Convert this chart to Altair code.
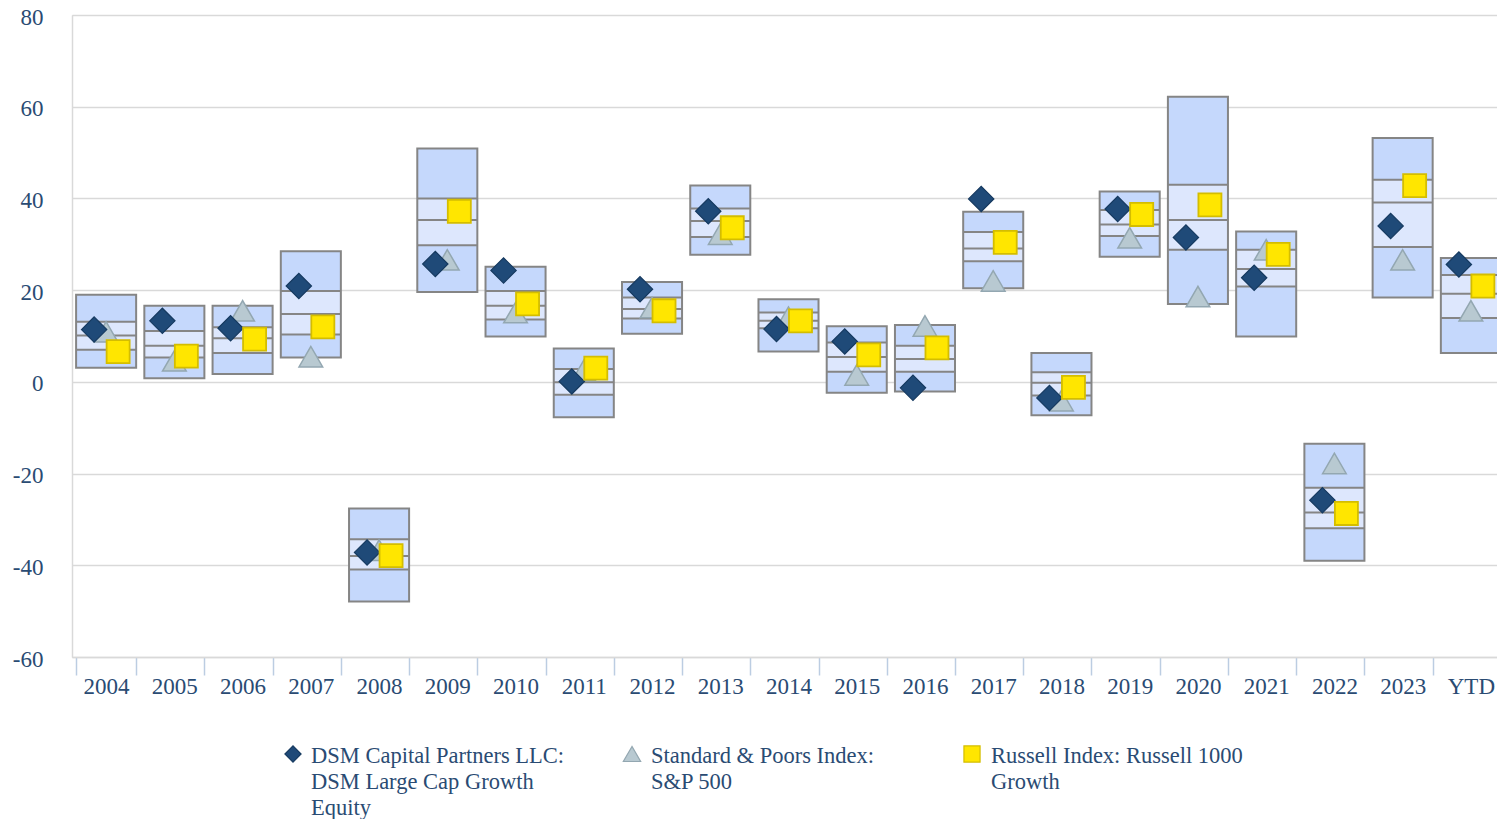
import altair as alt
import pandas as pd

years = ["2004", "2005", "2006", "2007", "2008", "2009", "2010", "2011", "2012", "2013",
         "2014", "2015", "2016", "2017", "2018", "2019", "2020", "2021", "2022", "2023", "YTD"]
# percentile bands of the universe (top = 5th percentile, bottom = 95th percentile)
pct05 = [19.0, 16.6, 16.6, 28.5, -27.6, 50.9, 25.1, 7.3, 21.8, 42.8,
         18.0, 12.1, 12.4, 37.1, 6.3, 41.5, 62.2, 32.8, -13.5, 53.2, 27.0]
pct25 = [13.1, 11.1, 11.9, 19.8, -34.3, 40.0, 19.8, 2.8, 18.4, 37.8,
         15.1, 8.6, 7.9, 32.7, 2.1, 37.5, 43.0, 28.8, -23.1, 44.1, 23.3]
pct50 = [10.1, 7.9, 9.5, 14.8, -38.0, 35.3, 16.6, -0.1, 15.9, 35.1,
         13.3, 5.4, 5.0, 29.1, -0.2, 34.3, 35.3, 24.6, -28.5, 39.1, 19.2]
pct75 = [7.0, 5.3, 6.3, 10.3, -40.9, 29.8, 13.6, -2.8, 13.8, 31.6,
         11.7, 2.2, 2.2, 26.3, -3.0, 31.8, 28.8, 20.8, -31.9, 29.4, 13.9]
pct95 = [3.1, 0.8, 1.7, 5.3, -47.9, 19.6, 9.9, -7.7, 10.5, 27.7,
         6.6, -2.4, -2.1, 20.4, -7.3, 27.3, 17.0, 9.9, -39.0, 18.4, 6.3]

dsm = [11.4, 13.3, 11.7, 20.9, -37.2, 25.7, 24.3, 0.1, 20.2, 37.2,
       11.5, 8.8, -1.3, 39.9, -3.5, 37.7, 31.5, 22.7, -25.8, 34.0, 25.6]
sp500 = [10.9, 4.6, 15.5, 5.5, -36.7, 26.6, 15.1, 2.5, 16.2, 32.2,
         14.1, 1.5, 12.2, 22.0, -4.1, 31.4, 18.6, 28.8, -17.8, 26.6, 15.5]
russell = [6.6, 5.6, 9.3, 12.0, -37.9, 37.2, 17.0, 3.0, 15.5, 33.6,
           13.3, 5.9, 7.4, 30.4, -1.2, 36.5, 38.6, 27.8, -28.7, 42.8, 20.9]

legend_labels = [
    "DSM Capital Partners LLC:\nDSM Large Cap Growth\nEquity",
    "Standard & Poors Index:\nS&P 500",
    "Russell Index: Russell 1000\nGrowth",
]

df = pd.DataFrame({
    "year": years, "p05": pct05, "p25": pct25, "p50": pct50, "p75": pct75, "p95": pct95,
    "dsm": dsm, "sp": sp500, "r1000": russell,
})

FONT = "Liberation Serif"
TXT = "#2a4b73"
GRID = "#d9d9d9"

x = alt.X(
    "year:N", sort=years,
    scale=alt.Scale(paddingInner=0.12, paddingOuter=0.06),
    axis=alt.Axis(
        title=None, labelAngle=0, labelFont=FONT, labelFontSize=23, labelColor=TXT,
        tickBand="extent", tickColor="#bccde2", tickSize=18, tickWidth=1.5,
        domainColor=GRID, domainWidth=1.5, labelPadding=0, grid=False,
    ),
)
yscale = alt.Scale(domain=[-60, 80], nice=False, zero=False)
yaxis = alt.Axis(
    title=None, values=[-60, -40, -20, 0, 20, 40, 60, 80], grid=True, gridColor=GRID,
    gridWidth=1.5, ticks=False, labelPadding=29, labelOffset=2, domainColor=GRID,
    domainWidth=1.5, labelFont=FONT, labelFontSize=23, labelColor=TXT,
    labelExpr="toString(datum.value)",
)

base = alt.Chart(df)

outer = base.mark_bar(color="#c5d8fc").encode(
    x=x, y=alt.Y("p05:Q", scale=yscale, axis=yaxis), y2="p95:Q")
inner = base.mark_bar(color="#dde7fd").encode(
    x=x, y=alt.Y("p25:Q", scale=yscale), y2="p75:Q")
lines = base.transform_fold(["p25", "p50", "p75"], as_=["k", "v"]).mark_tick(
    color="#858585", thickness=2, size=60, opacity=1).encode(
    x=x, y=alt.Y("v:Q", scale=yscale))
outline = base.mark_bar(fillOpacity=0, stroke="#858585", strokeWidth=2).encode(
    x=x, y=alt.Y("p05:Q", scale=yscale), y2="p95:Q")

tri = base.mark_point(shape="triangle-up", filled=True, fill="#b8c9d1", stroke="#93a7b1",
                      strokeWidth=1.5, size=560, opacity=1).encode(
    x=x, y=alt.Y("sp:Q", scale=yscale))
dia = base.mark_point(shape="diamond", filled=True, fill="#1f4a78", stroke="#163a60",
                      strokeWidth=1.2, size=640, opacity=1, xOffset=-12).encode(
    x=x, y=alt.Y("dsm:Q", scale=yscale))
sq = base.mark_point(shape="square", filled=True, fill="#ffe600", stroke="#d4bd00",
                     strokeWidth=1.8, size=530, opacity=1, xOffset=12).encode(
    x=x, y=alt.Y("r1000:Q", scale=yscale))

# legend (manual, positioned below the plot)
def legend_item(label, shape, fill, stroke, mx, tx, size):
    d = pd.DataFrame({"label": [label]})
    m = alt.Chart(d).mark_point(shape=shape, filled=True, fill=fill, stroke=stroke,
                                strokeWidth=1.2, size=size, opacity=1).encode(
        x=alt.value(mx), y=alt.value(739))
    t = alt.Chart(d).mark_text(align="left", baseline="alphabetic", font=FONT, fontSize=22.5,
                               lineHeight=26, color=TXT, lineBreak="\n").encode(
        x=alt.value(tx), y=alt.value(748), text="label:N")
    return m + t

leg1 = legend_item(legend_labels[0], "diamond", "#1f4a78", "#163a60", 221, 239, 260)
leg2 = legend_item(legend_labels[1], "triangle-up", "#b8c9d1", "#93a7b1", 560, 579, 300)
leg3 = legend_item(legend_labels[2], "square", "#ffe600", "#d4bd00", 900, 919, 260)

chart = alt.layer(outer, inner, lines, outline, tri, dia, sq, leg1, leg2, leg3).properties(
    width=1433, height=642,
    autosize=alt.AutoSizeParams(type="none"),
    padding={"left": 64, "top": 7, "right": -8, "bottom": 162},
).configure_view(stroke=None).configure(background="white")

chart.save("out.html", embed_options={"renderer": "svg", "actions": False})
